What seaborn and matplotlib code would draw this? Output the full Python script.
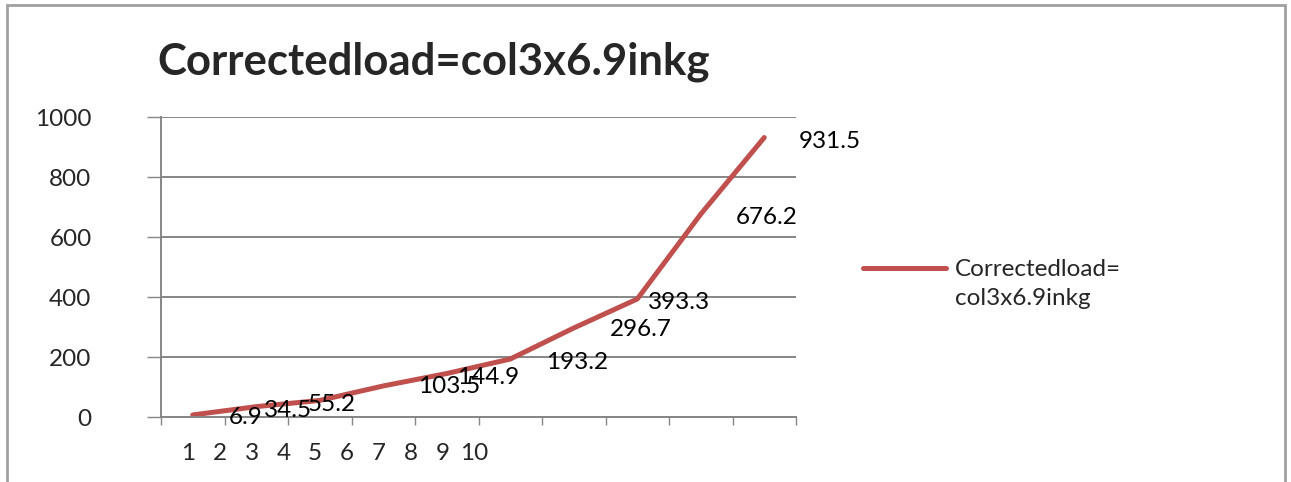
import numpy as np
import pandas as pd
import matplotlib
matplotlib.use("Agg")
import matplotlib.pyplot as plt
from matplotlib.patches import Rectangle
import seaborn as sns

# ---- data ----
categories = ["1", "2", "3", "4", "5", "6", "7", "8", "9", "10"]
values = [6.9, 34.5, 55.2, 103.5, 144.9, 193.2, 296.7, 393.3, 676.2, 931.5]
value_labels = ["6.9", "34.5", "55.2", "103.5", "144.9", "193.2", "296.7", "393.3", "676.2", "931.5"]
series_name = "Correctedload=\ncol3x6.9inkg"
title = "Correctedload=col3x6.9inkg"
y_ticks = [0, 200, 400, 600, 800, 1000]

# label offsets (pixels) relative to each point, as in the reference
label_dx = [53, 32, 12, 66, 41, 67, 67, 42, 66, 66]
label_dy = [-3, -4, -4, -1, -4, -3, -2, -3, -3, -4]

sns.set_style("white")
plt.rcParams["font.family"] = ["Lato", "DejaVu Sans"]

W, H, DPI = 1291, 482, 100
fig = plt.figure(figsize=(W / DPI, H / DPI), dpi=DPI)

L, R, T, B = 161, 796, 117, 417
ax = fig.add_axes([L / W, 1 - B / H, (R - L) / W, (B - T) / H])

df = pd.DataFrame({"idx": np.arange(len(values)), "value": values})
red = "#C0504D"
grey = "#868686"
FS = 17.5
sns.lineplot(data=df, x="idx", y="value", ax=ax, color=red, lw=3.6,
             label=series_name, legend=False)

ax.set_xlim(-0.5, len(values) - 0.5)
ax.set_ylim(0, 1000)
ax.set_yticks(y_ticks)
ax.set_yticklabels([str(t) for t in y_ticks], fontsize=FS)
ax.set_xticks(np.arange(len(values) + 1) - 0.5)
ax.set_xticklabels([])
ax.set_xlabel("")
ax.set_ylabel("")
ax.yaxis.grid(True, color=grey, lw=1.4)
ax.set_axisbelow(True)
for s in ["top", "right"]:
    ax.spines[s].set_visible(False)
for s in ["left", "bottom"]:
    ax.spines[s].set_color(grey)
    ax.spines[s].set_linewidth(1.4)
ax.tick_params(axis="y", direction="out", length=10, width=1, color=grey, pad=40, left=True)
ax.tick_params(axis="x", direction="out", length=6, width=1, color=grey, bottom=True)

# data labels
for i, (v, lab) in enumerate(zip(values, value_labels)):
    ax.annotate(lab, (i, v), xytext=(label_dx[i], label_dy[i]), textcoords="offset pixels",
                ha="center", va="center", fontsize=FS, color="black")

# category labels (compressed, as in the reference)
for i, c in enumerate(categories):
    fig.text((188 + 31.8 * i) / W, 1 - 453 / H, c, ha="center", va="center", fontsize=FS)

# title
fig.text(157 / W, 1 - 62 / H, title, ha="left", va="center", fontsize=31.5, fontweight="bold")

# legend
handles, labels = ax.get_legend_handles_labels()
leg = fig.legend(handles, labels, loc="upper left", bbox_to_anchor=(863 / W, 1 - 259 / H),
                 frameon=False, fontsize=FS, handlelength=3.4, handletextpad=0.4,
                 borderpad=0, borderaxespad=0, labelspacing=0)
for t in leg.get_texts():
    t.set_linespacing(1.45)


def _set_align(box):
    for child in box.get_children():
        if hasattr(child, "align") and child.__class__.__name__ == "HPacker":
            child.align = "top"
        if hasattr(child, "get_children"):
            _set_align(child)


_set_align(leg._legend_handle_box)

# outer border
fig.patches.append(Rectangle((7 / W, -0.05), (1285 - 7) / W, 1 - 5 / H + 0.05,
                             transform=fig.transFigure, fill=False, edgecolor="#A0A0A0",
                             lw=2, clip_on=False))

fig.savefig("out.png", dpi=DPI)
